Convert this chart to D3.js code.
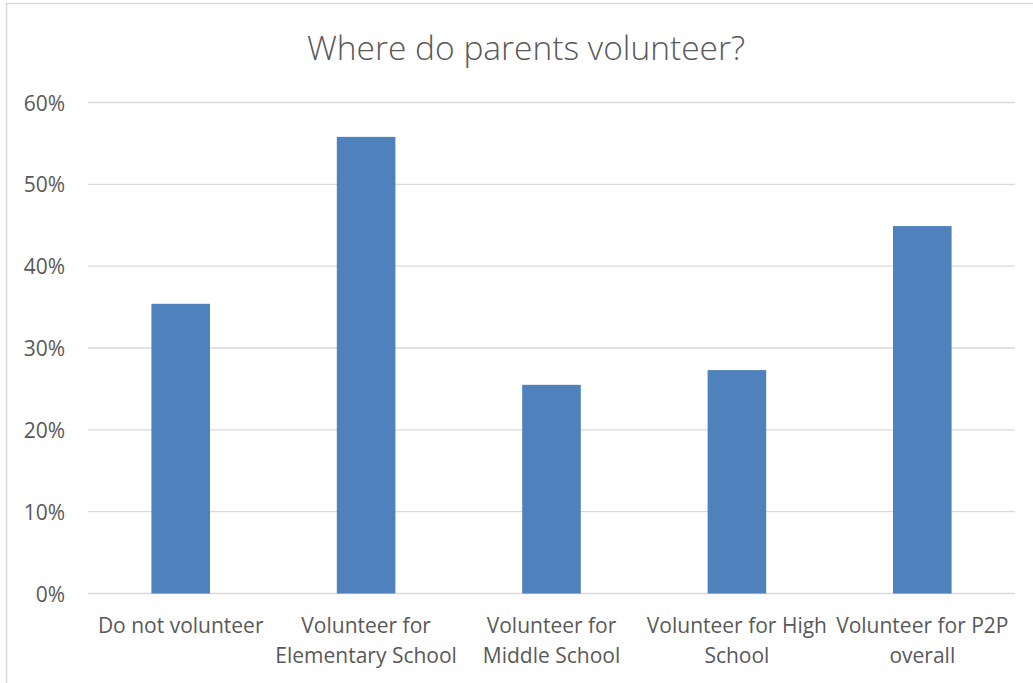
<!DOCTYPE html>
<html>
<head>
<meta charset="utf-8">
<script src="https://cdn.jsdelivr.net/npm/d3@7"></script>
<style>
  html, body { margin: 0; padding: 0; background: #fff; }
  svg { display: block; }
  text { font-family: "Open Sans", Lato, sans-serif; fill: #595959; }
</style>
</head>
<body>
<svg id="chart" width="1033" height="683"></svg>
<script>
const categories = [
  "Do not volunteer",
  "Volunteer for\nElementary School",
  "Volunteer for\nMiddle School",
  "Volunteer for High\nSchool",
  "Volunteer for P2P\noverall"
];
const values = [0.354, 0.558, 0.255, 0.273, 0.449];
const yTicks = [0, 0.1, 0.2, 0.3, 0.4, 0.5, 0.6];
const title = "Where do parents volunteer?";

(function () {
const svg = d3.select("#chart");
const W = 1033, H = 683;
const pLeft = 88, pRight = 1015, pTop = 102.5, pBottom = 593.5;
const FONT = "'Open Sans', Lato, sans-serif";
const LABEL_SIZE = 21;

// chart border
svg.append("rect")
  .attr("x", 6.5).attr("y", 3.5)
  .attr("width", W).attr("height", H)
  .attr("fill", "none").attr("stroke", "#d9d9d9").attr("stroke-width", 1.5);

const x = d3.scaleBand().domain(categories).range([pLeft, pRight])
  .paddingInner(0.684).paddingOuter(0.342);
const y = d3.scaleLinear().domain([0, 0.6]).range([pBottom, pTop]);

// gridlines
svg.append("g").selectAll("line").data(yTicks).join("line")
  .attr("x1", pLeft).attr("x2", pRight)
  .attr("y1", d => y(d)).attr("y2", d => y(d))
  .attr("stroke", "#d9d9d9").attr("stroke-width", 1.3);

// y axis labels
const yAxis = d3.axisLeft(y).tickValues(yTicks).tickFormat(d3.format(".0%")).tickSize(0).tickPadding(0);
const yg = svg.append("g").attr("transform", `translate(65,0)`).call(yAxis);
yg.select(".domain").remove();
yg.selectAll("text").attr("font-size", LABEL_SIZE).attr("fill", "#595959")
  .style("font-family", FONT).attr("dy", "0.36em");

// bars
svg.append("g").selectAll("rect").data(values).join("rect")
  .attr("x", (d, i) => x(categories[i]))
  .attr("width", x.bandwidth())
  .attr("y", d => y(d))
  .attr("height", d => y(0) - y(d))
  .attr("fill", "#4f81bd");

// x axis labels
const xAxis = d3.axisBottom(x).tickSize(0).tickFormat("");
const xg = svg.append("g").attr("transform", `translate(0,${pBottom})`).call(xAxis);
xg.select(".domain").remove();
xg.selectAll(".tick").each(function(d) {
  const t = d3.select(this).append("text")
    .attr("text-anchor", "middle").attr("font-size", LABEL_SIZE).attr("fill", "#595959")
    .style("font-family", FONT);
  d.split("\n").forEach((line, i) => {
    t.append("tspan").attr("x", 0).attr("y", 31.5 + i * 30).attr("dy", "0.36em").text(line);
  });
});

// title
svg.append("text").attr("x", 526).attr("y", 48).attr("dy", "0.36em")
  .attr("text-anchor", "middle").attr("font-size", 33.5).attr("font-weight", 300)
  .style("font-family", FONT)
  .text(title);
})();
</script>
</body>
</html>
